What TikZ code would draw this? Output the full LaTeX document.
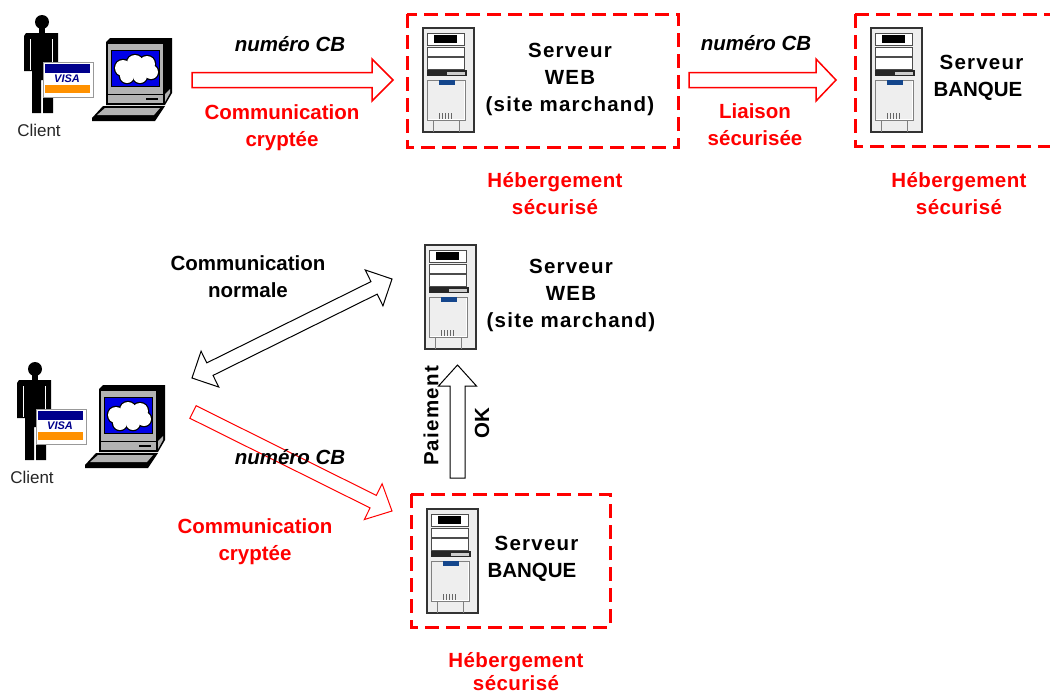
\documentclass[tikz,border=0pt]{standalone}
\usepackage{fontspec}
\setmainfont{Liberation Sans}
\usetikzlibrary{calc}
\definecolor{redd}{RGB}{255,0,0}
\definecolor{navyb}{RGB}{0,0,140}
\definecolor{screenb}{RGB}{0,0,230}
\definecolor{ora}{RGB}{255,145,0}
\definecolor{panel}{RGB}{238,238,238}
\definecolor{lab}{RGB}{20,70,140}
\newcommand{\spc}{\addfontfeature{LetterSpace=6}}
\newcommand{\spd}{\addfontfeature{LetterSpace=2}}
\tikzset{
 lbl/.style={font=\fontsize{20.5}{27}\selectfont\bfseries,align=center,inner sep=0pt,text=black},
 redlbl/.style={lbl,text=redd},
 numlbl/.style={lbl,font=\fontsize{20.5}{27}\selectfont\bfseries\itshape},
 clientlbl/.style={font=\fontsize{17}{20}\selectfont,inner sep=0pt,text=black!85},
 secbox/.style={draw=redd,line width=3pt,dash pattern=on 14pt off 7pt},
 fatred/.style={draw=redd,fill=white,line width=1.5pt,line join=miter},
 fatthin/.style={draw=redd,fill=white,line width=1pt},
 fatblack/.style={draw=black,fill=white,line width=1pt},
 server/.pic={
  \fill[panel] (0,0) rectangle (51,104);
  \draw[black!80,line width=1.5pt] (0,0) rectangle (51,104);
  \fill[white,draw=black!70,line width=1pt] (4,5) rectangle (41,17);
  \fill[black] (11,7) rectangle (34,15);
  \fill[white,draw=black!70,line width=1pt] (4,19) rectangle (41,28);
  \fill[white,draw=black!70,line width=1pt] (4,29) rectangle (41,41);
  \fill[black!85] (4,42) rectangle (44,48);
  \fill[white!80!black] (24,44) rectangle (42,46.5);
  \fill[white,draw=black!50,line width=.8pt] (4,52) rectangle (42,92);
  \fill[panel] (5,53) rectangle (41,91);
  \fill[lab] (16,52) rectangle (32,56.5);
  \foreach \i in {16,19,22,25,28} \draw[black!60,line width=.8pt] (\i,85) -- (\i,91);
  \draw[black!50,line width=.8pt] (10,92) -- (10,104) (36,92) -- (36,104);
 },
 client/.pic={
  % person
  \fill[black] (42,22) circle[radius=7pt];
  \fill[black] (39,27) rectangle (45,34);
  \fill[black] (26,33) -- (58,33) -- (58,69) -- (53,69) -- (53,113) -- (43,113) -- (43,80) -- (41,80) -- (41,113) -- (32,113) -- (32,71) -- (24,71) -- (24,36) -- cycle;
  \draw[white,line width=1pt] (30,39) -- (30,70);
  \draw[white,line width=1pt] (52,39) -- (52,62);
  % card
  \fill[white,draw=black!40,line width=1pt] (43,62) rectangle (93,97);
  \fill[navyb] (44.5,63.5) rectangle (90,73);
  \fill[ora] (44.5,84.5) rectangle (90,93);
  \node[inner sep=0pt,font=\fontsize{11}{11}\selectfont\bfseries\itshape,text=navyb] at (67,78.5) {VISA};
  % computer
  \fill[black] (106,42) -- (110,38) -- (172,38) -- (172,93) -- (165,105) -- (106,105) -- cycle;
  \fill[black!30] (108,44) rectangle (163,94);
  \fill[black!30] (108,95) rectangle (163,103);
  \draw[black,line width=1pt] (107,94.5) -- (165,94.5);
  \fill[black!30] (165,94) -- (170,89) -- (170,93) -- (165,102) -- cycle;
  \fill[black] (146,98) rectangle (158,100);
  \fill[black] (111,50) rectangle (160,87);
  \fill[screenb] (112,51) rectangle (159,86);
  \foreach \a/\b/\r in {123/68/8,135/63/8,147/64/8,151/72/7,140/76/7,127/76/7} \fill[black] (\a,\b) circle[radius=\r pt+1.3pt];
  \foreach \a/\b/\r in {123/68/8,135/63/8,147/64/8,151/72/7,140/76/7,127/76/7} \fill[white] (\a,\b) circle[radius=\r pt];
  \fill[white] (125,62) rectangle (150,76);
  % keyboard
  \fill[black] (92,118) -- (103,106) -- (165,106) -- (155,121) -- (92,121) -- cycle;
  \fill[black!30] (97,115) -- (105,108) -- (160,108) -- (154,115) -- cycle;
 }
}
% \fatarrow{style}{start}{tip}{half shaft}{head length}{half head}
\newcommand{\fatarrow}[6]{%
  \coordinate (hh) at ($(#3)!#5pt!(#2)$);
  \draw[#1] ($(#2)!#4pt!90:(#3)$) -- ($(hh)!#4pt!90:(#3)$) -- ($(hh)!#6pt!90:(#3)$) -- (#3) -- ($(hh)!#6pt!-90:(#3)$) -- ($(hh)!#4pt!-90:(#3)$) -- ($(#2)!#4pt!-90:(#3)$) -- cycle;
}
\newcommand{\fatdouble}[6]{%
  \coordinate (hh) at ($(#3)!#5pt!(#2)$);
  \coordinate (kk) at ($(#2)!#5pt!(#3)$);
  \draw[#1] ($(kk)!#4pt!90:(#3)$) -- ($(hh)!#4pt!90:(#3)$) -- ($(hh)!#6pt!90:(#3)$) -- (#3) -- ($(hh)!#6pt!-90:(#3)$) -- ($(hh)!#4pt!-90:(#3)$) -- ($(kk)!#4pt!-90:(#3)$) -- ($(kk)!#6pt!-90:(#3)$) -- (#2) -- ($(kk)!#6pt!90:(#3)$) -- cycle;
}
\begin{document}
\begin{tikzpicture}[x=1pt,y=-1pt]
\useasboundingbox (0,0) rectangle (1051,694);
\fill[white] (0,0) rectangle (1051,694);

% top row
\draw[secbox] (407,14) rectangle (678,147);
\draw[secbox] (855,14) -- (1050,14) (855,14) -- (855,146) -- (1050,146);
\pic at (0,0) {client};
\pic at (423,28) {server};
\pic at (871,28) {server};
\node[clientlbl] (c1) at (39,130) {Client};
\node[numlbl] (n1) at (290,44) {numéro CB};
\node[redlbl] (t1) at (282,128) {Communication\\cryptée};
\node[lbl] (s1) at (570,79) {\spc Serveur\\\spc WEB\\\spc (site marchand)};
\node[numlbl] (n2) at (756,43) {numéro CB};
\node[redlbl] (t2) at (755,125) {Liaison\\sécurisée};
\node[lbl] (b1) at (978,77.5) {\hspace*{7pt}\spc Serveur\\BANQUE};
\node[redlbl] (h1) at (555,194) {\spd Hébergement\\\spd sécurisé};
\node[redlbl] (h2) at (959,194) {\spd Hébergement\\\spd sécurisé};
\coordinate (a1s) at (192,80); \coordinate (a1e) at (393,80);
\coordinate (a2s) at (689,80); \coordinate (a2e) at (836,80);
\fatarrow{fatred}{a1s}{a1e}{7.5}{21}{21}
\fatarrow{fatred}{a2s}{a2e}{7.5}{20}{21}

% bottom part
\pic at (-7,347) {client};
\pic at (425,245) {server};
\pic at (427,509) {server};
\draw[secbox] (411,494) rectangle (610,627);
\node[clientlbl] (c2) at (32,477) {Client};
\node[lbl] (cn) at (248,277) {Communication\\normale};
\node[lbl] (s2) at (571,295) {\spc Serveur\\\spc WEB\\\spc (site marchand)};
\coordinate (d1) at (192,378); \coordinate (d2) at (392,279);
\fatdouble{fatblack}{d1}{d2}{7}{20}{20}
\coordinate (r1) at (193,412); \coordinate (r2) at (392,511);
\fatarrow{fatthin}{r1}{r2}{7}{21}{20}
\coordinate (u1) at (457.5,478); \coordinate (u2) at (457.5,365);
\fatarrow{fatblack}{u1}{u2}{7.5}{21}{19}
\node[numlbl] (n3) at (290,457) {numéro CB};
\node[lbl,rotate=90] (pa) at (431,416) {\spc Paiement};
\node[lbl,rotate=90] (ok) at (482,423) {OK};
\node[redlbl] (t3) at (255,542) {Communication\\cryptée};
\node[lbl] (b2) at (532,559) {\hspace*{9pt}\spc Serveur\\BANQUE};
\node[redlbl,font=\fontsize{20.5}{23}\selectfont\bfseries] (h3) at (516,672) {\spd Hébergement\\\spd sécurisé};
\end{tikzpicture}
\end{document}
